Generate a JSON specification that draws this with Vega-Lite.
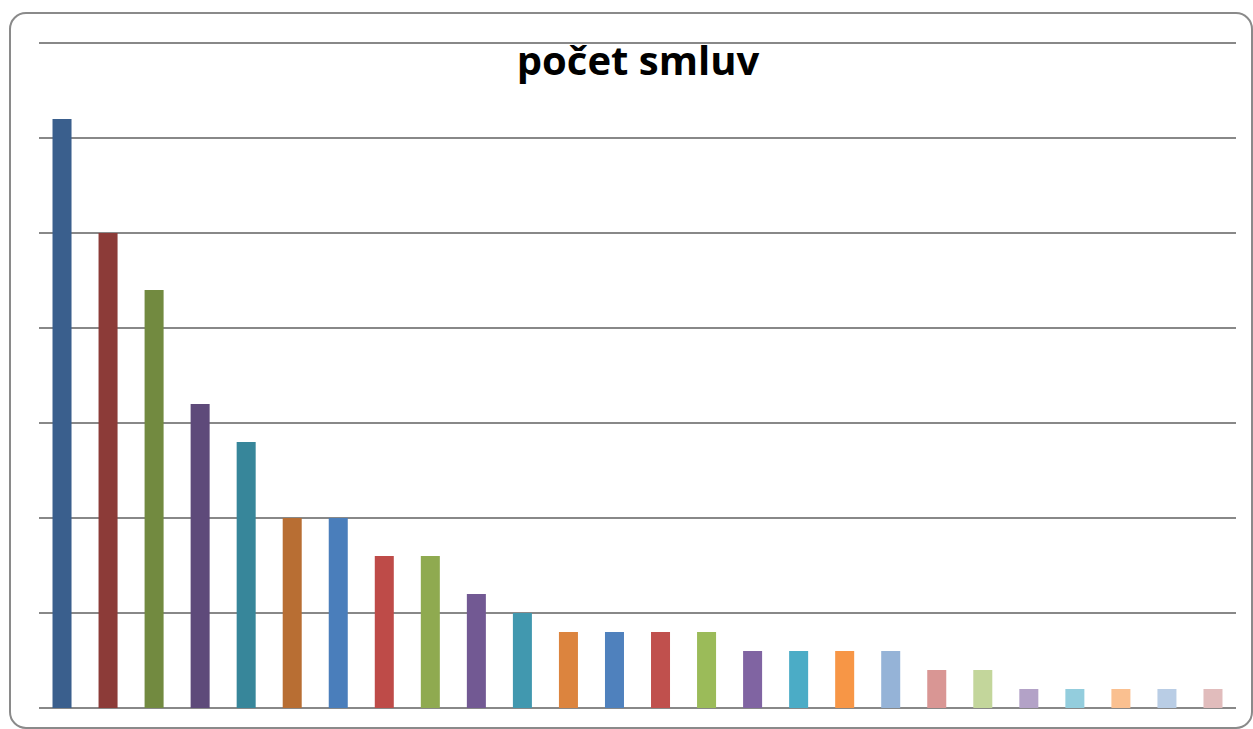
{
  "$schema": "https://vega.github.io/schema/vega-lite/v6.json",
  "autosize": {"type": "none"},
  "width": 1242,
  "height": 715,
  "padding": {"left": 10, "top": 13, "right": 1, "bottom": 1},
  "background": "white",
  "config": {
    "view": {"stroke": "#8a8a8a", "strokeWidth": 2, "cornerRadius": 16, "fill": "white"}
  },
  "title": {
    "text": "počet smluv",
    "font": "Open Sans",
    "fontSize": 40,
    "fontWeight": "bold",
    "color": "#000000",
    "anchor": "middle",
    "baseline": "alphabetic",
    "offset": -102,
    "dx": 7
  },
  "datasets": {
    "bars": [
      {"k": "01", "n": 31}, {"k": "02", "n": 25}, {"k": "03", "n": 22},
      {"k": "04", "n": 16}, {"k": "05", "n": 14}, {"k": "06", "n": 10},
      {"k": "07", "n": 10}, {"k": "08", "n": 8}, {"k": "09", "n": 8},
      {"k": "10", "n": 6}, {"k": "11", "n": 5}, {"k": "12", "n": 4},
      {"k": "13", "n": 4}, {"k": "14", "n": 4}, {"k": "15", "n": 4},
      {"k": "16", "n": 3}, {"k": "17", "n": 3}, {"k": "18", "n": 3},
      {"k": "19", "n": 3}, {"k": "20", "n": 2}, {"k": "21", "n": 2},
      {"k": "22", "n": 1}, {"k": "23", "n": 1}, {"k": "24", "n": 1},
      {"k": "25", "n": 1}, {"k": "26", "n": 1}
    ],
    "grid": [
      {"g": 0}, {"g": 5}, {"g": 10}, {"g": 15}, {"g": 20}, {"g": 25}, {"g": 30}, {"g": 35}
    ]
  },
  "layer": [
    {
      "data": {"name": "grid"},
      "mark": {"type": "rule", "color": "#888888", "strokeWidth": 2},
      "encoding": {
        "y": {"field": "g", "type": "quantitative", "scale": {"domain": [0, 35], "range": [695, 30], "nice": false, "zero": true}, "axis": null},
        "x": {"datum": 0, "type": "quantitative", "scale": {"domain": [0, 1], "range": [29, 1226]}, "axis": null},
        "x2": {"datum": 1}
      }
    },
    {
      "data": {"name": "bars"},
      "mark": {"type": "bar"},
      "encoding": {
        "x": {"field": "k", "type": "nominal", "sort": null, "scale": {"range": [29, 1226], "paddingInner": 0.587, "paddingOuter": 0.2935}, "axis": null},
        "y": {"field": "n", "type": "quantitative", "scale": {"domain": [0, 35], "range": [695, 30], "nice": false}, "axis": null},
        "color": {
          "field": "k", "type": "nominal", "legend": null,
          "scale": {
            "domain": ["01","02","03","04","05","06","07","08","09","10","11","12","13","14","15","16","17","18","19","20","21","22","23","24","25","26"],
            "range": ["#3A5F8D","#8C3B38","#728A40","#5E4A7A","#37869A","#B86E33","#4A7EBB","#BE4B48","#8FAA50","#725993","#4198AF","#DC843E","#4F81BD","#C0504D","#9BBB59","#8064A2","#4BACC6","#F79646","#95B3D7","#D99694","#C3D69B","#B3A2C7","#93CDDD","#FAC090","#B9CDE5","#E1BCBC"]
          }
        }
      }
    }
  ],
  "resolve": {"scale": {"x": "independent"}}
}
